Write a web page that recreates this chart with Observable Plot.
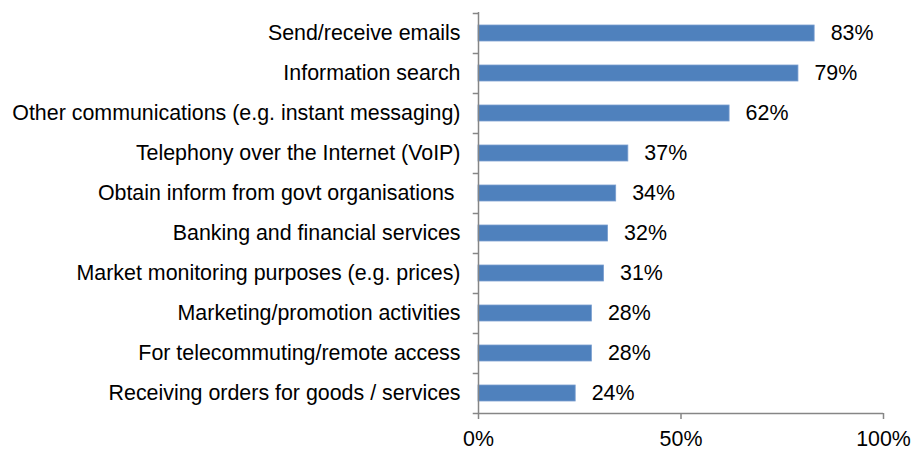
<!DOCTYPE html>
<html>
<head>
<meta charset="utf-8">
<script src="https://cdn.jsdelivr.net/npm/d3@7"></script>
<script src="https://cdn.jsdelivr.net/npm/@observablehq/plot@0.6"></script>
<style>
  html, body { margin: 0; padding: 0; background: #fff; }
</style>
</head>
<body>
<div id="chart"></div>
<script>
const categories = [
  "Send/receive emails",
  "Information search",
  "Other communications (e.g. instant messaging)",
  "Telephony over the Internet (VoIP)",
  "Obtain inform from govt organisations\u00a0",
  "Banking and financial services",
  "Market monitoring purposes (e.g. prices)",
  "Marketing/promotion activities",
  "For telecommuting/remote access",
  "Receiving orders for goods / services"
];
const values = [83, 79, 62, 37, 34, 32, 31, 28, 28, 24];
const xTicks = [0, 50, 100];

const data = categories.map((c, i) => ({category: c, value: values[i]}));
const gray = "#868686";
const last = categories[categories.length - 1];

const chart = Plot.plot({
  width: 912,
  height: 449,
  marginLeft: 478,
  marginRight: 29,
  marginTop: 12,
  marginBottom: 36,
  style: {fontFamily: "'Liberation Sans', Arial, sans-serif", fontSize: "21.4px", color: "#000", background: "#fff"},
  x: {domain: [0, 100], label: null},
  y: {domain: categories, paddingInner: 0.6, paddingOuter: 0.3, label: null},
  marks: [
    Plot.barX(data, {x: "value", y: "category", fill: "#4F81BD", stroke: "#7A9FD0", strokeWidth: 0.8}),
    Plot.text(data, {x: "value", y: "category", text: d => d.value + "%", textAnchor: "start", dx: 16, fill: "#000"}),
    Plot.ruleX([0], {stroke: gray, strokeWidth: 1.5}),
    Plot.ruleY(categories, {y: d => d, x1: -1.3, x2: 0, dy: -20, stroke: gray, strokeWidth: 1.5}),
    Plot.ruleY([last], {y: d => d, x1: -1.3, x2: 100, dy: 20, stroke: gray, strokeWidth: 1.5}),
    Plot.axisX({ticks: xTicks, tickFormat: d => d + "%", tickSize: 6, tickPadding: 11, stroke: gray, strokeWidth: 1.5, label: null}),
    Plot.axisY({tickSize: 0, tickPadding: 18, label: null})
  ]
});
document.getElementById("chart").appendChild(chart);
</script>
</body>
</html>
